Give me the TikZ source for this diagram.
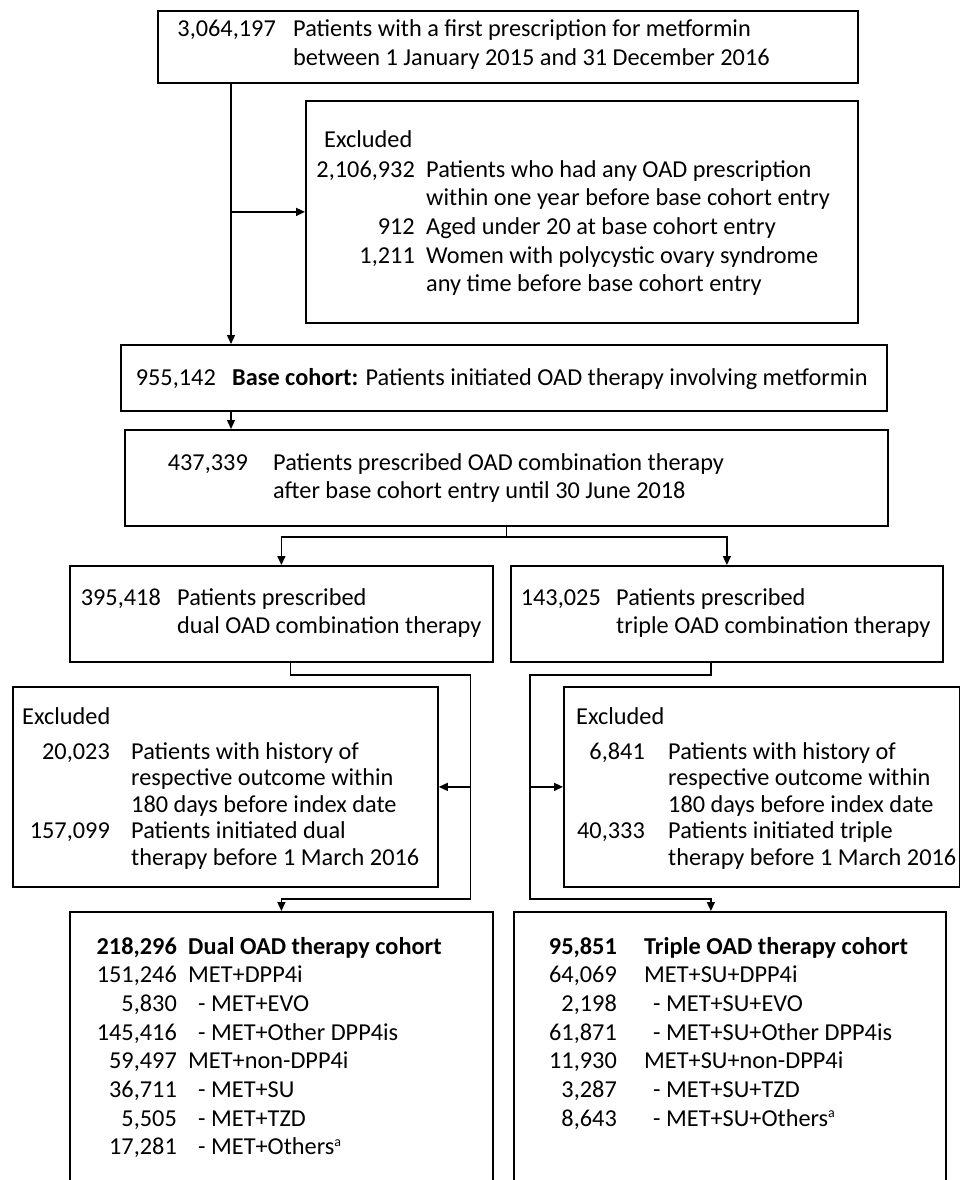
\documentclass[tikz,border=0pt]{standalone}
\usepackage{fontspec}
\setmainfont{Carlito}
\usetikzlibrary{arrows.meta}
\tikzset{
	box/.style={draw,line width=1.8pt,inner sep=0pt,anchor=north west},%
	flow/.style={line width=1.4pt},%
	flowarrow/.style={flow,-{Triangle[length=9pt,width=8pt]}},%
	txt/.style={inner sep=0pt,font=\fontsize{24.3}{28.7}\selectfont},%
	tighttxt/.style={inner sep=0pt,font=\fontsize{24.3}{26.5}\selectfont},%
}
\def\subrow{\hspace{10pt}- }
\def\subsurow{\hspace{9pt}- }
\def\supa{\raisebox{8.5pt}{\fontsize{14}{14}\selectfont a}}

\begin{document}
\begin{tikzpicture}[%
		x=1pt,y=-1pt,%
		]
		\path[use as bounding box,clip] (0,0) rectangle (960,1180);
		% boxes
		\node[box,minimum width=700pt,minimum height=72pt] (start) at (157,10) {};
		\node[box,minimum width=552pt,minimum height=222pt] (excl1) at (305,100) {};
		\node[box,minimum width=766pt,minimum height=66pt] (base) at (120,344) {};
		\node[box,minimum width=763pt,minimum height=96pt] (combo) at (124,429) {};
		\node[box,minimum width=423pt,minimum height=96pt] (dual) at (69,565) {};
		\node[box,minimum width=432pt,minimum height=96pt] (triple) at (510,565) {};
		\node[box,minimum width=425pt,minimum height=200pt] (exclD) at (12,686) {};
		\node[box,minimum width=396pt,minimum height=200pt] (exclT) at (563,686) {};
		\node[box,minimum width=423pt,minimum height=300pt] (dualcoh) at (69,911) {};
		\node[box,minimum width=432pt,minimum height=300pt] (triplecoh) at (513,911) {};
		% texts
		\node[txt,anchor=base east] (startnum) at (276,37) {3,064,197};
		\node[txt,anchor=base west] (starttxt) at (293,37) {\begin{tabular}[t]{@{}l@{}}Patients with a first prescription for metformin\\between 1 January 2015 and 31 December 2016\end{tabular}};
		\node[txt,anchor=base west] (excl1head) at (324,147) {Excluded};
		\node[txt,anchor=base east] (excl1num) at (415,177) {\begin{tabular}[t]{@{}r@{}}2,106,932\\ \\912\\1,211\end{tabular}};
		\node[txt,anchor=base west] (excl1txt) at (426,177) {\begin{tabular}[t]{@{}l@{}}Patients who had any OAD prescription\\within one year before base cohort entry\\Aged under 20 at base cohort entry\\Women with polycystic ovary syndrome\\any time before base cohort entry\end{tabular}};
		\node[txt,anchor=base east] (basenum) at (216,385) {955,142};
		\node[txt,anchor=base west] (basetxt) at (232,385) {\textbf{Base cohort:} Patients initiated OAD therapy involving metformin};
		\node[txt,anchor=base east] (combonum) at (248,470) {437,339};
		\node[txt,anchor=base west] (combotxt) at (273,470) {\begin{tabular}[t]{@{}l@{}}Patients prescribed OAD combination therapy\\after base cohort entry until 30 June 2018\end{tabular}};
		\node[txt,anchor=base east] (dualnum) at (161,605) {395,418};
		\node[txt,anchor=base west] (dualtxt) at (177,605) {\begin{tabular}[t]{@{}l@{}}Patients prescribed\\dual OAD combination therapy\end{tabular}};
		\node[txt,anchor=base east] (triplenum) at (601,605) {143,025};
		\node[txt,anchor=base west] (tripletxt) at (616,605) {\begin{tabular}[t]{@{}l@{}}Patients prescribed\\triple OAD combination therapy\end{tabular}};
		\node[txt,anchor=base west] (exclDhead) at (22,724) {Excluded};
		\node[tighttxt,anchor=base east] (exclDnum) at (110,759) {\begin{tabular}[t]{@{}r@{}}20,023\\ \\ \\157,099\end{tabular}};
		\node[tighttxt,anchor=base west] (exclDtxt) at (131,759) {\begin{tabular}[t]{@{}l@{}}Patients with history of\\respective outcome within\\180 days before index date\\Patients initiated dual\\therapy before 1 March 2016\end{tabular}};
		\node[txt,anchor=base west] (exclThead) at (576,724) {Excluded};
		\node[tighttxt,anchor=base east] (exclTnum) at (645,759) {\begin{tabular}[t]{@{}r@{}}6,841\\ \\ \\40,333\end{tabular}};
		\node[tighttxt,anchor=base west] (exclTtxt) at (668,759) {\begin{tabular}[t]{@{}l@{}}Patients with history of\\respective outcome within\\180 days before index date\\Patients initiated triple\\therapy before 1 March 2016\end{tabular}};
		\node[txt,anchor=base east] (dualcohnum) at (177,954) {\begin{tabular}[t]{@{}r@{}}\textbf{218,296}\\151,246\\5,830\\145,416\\59,497\\36,711\\5,505\\17,281\end{tabular}};
		\node[txt,anchor=base west] (dualcohtxt) at (188,954) {\begin{tabular}[t]{@{}l@{}}\textbf{Dual OAD therapy cohort}\\MET+DPP4i\\\subrow MET+EVO\\\subrow MET+Other DPP4is\\MET+non-DPP4i\\\subrow MET+SU\\\subrow MET+TZD\\\subrow MET+Others\supa\end{tabular}};
		\node[txt,anchor=base east] (triplecohnum) at (617,954) {\begin{tabular}[t]{@{}r@{}}\textbf{95,851}\\64,069\\2,198\\61,871\\11,930\\3,287\\8,643\end{tabular}};
		\node[txt,anchor=base west] (triplecohtxt) at (644,954) {\begin{tabular}[t]{@{}l@{}}\textbf{Triple OAD therapy cohort}\\MET+SU+DPP4i\\\subsurow MET+SU+EVO\\\subsurow MET+SU+Other DPP4is\\MET+SU+non-DPP4i\\\subsurow MET+SU+TZD\\\subsurow MET+SU+Others\supa\end{tabular}};
		% connectors
		\coordinate (trunk) at ([xshift=74pt]start.south west);
		\draw[flowarrow] (trunk) -- (trunk |- base.north);
		\draw[flowarrow] (trunk |- excl1.west) -- (excl1.west);
		\draw[flowarrow] (trunk |- base.south) -- (trunk |- combo.north);
		\draw[flow] (combo.south) -- ++(0,10) coordinate (split);
		\draw[flowarrow] (split) -| (dual.north);
		\draw[flowarrow] (split) -| (triple.north);
		\draw[flowarrow] ([xshift=9pt]dual.south) -- ++(0,12) -- ++(180,0) coordinate (dualrail) -- ++(0,224) -| (dualcoh.north);
		\draw[flowarrow] (dualrail |- exclD.east) -- (exclD.east);
		\draw[flowarrow] ([xshift=-16pt]triple.south) -- ++(0,12) -- ++(-181,0) coordinate (triplerail) -- ++(0,224) -| ([xshift=-19pt]triplecoh.north);
		\draw[flowarrow] (triplerail |- exclT.west) -- (exclT.west);
	\end{tikzpicture}
\end{document}
